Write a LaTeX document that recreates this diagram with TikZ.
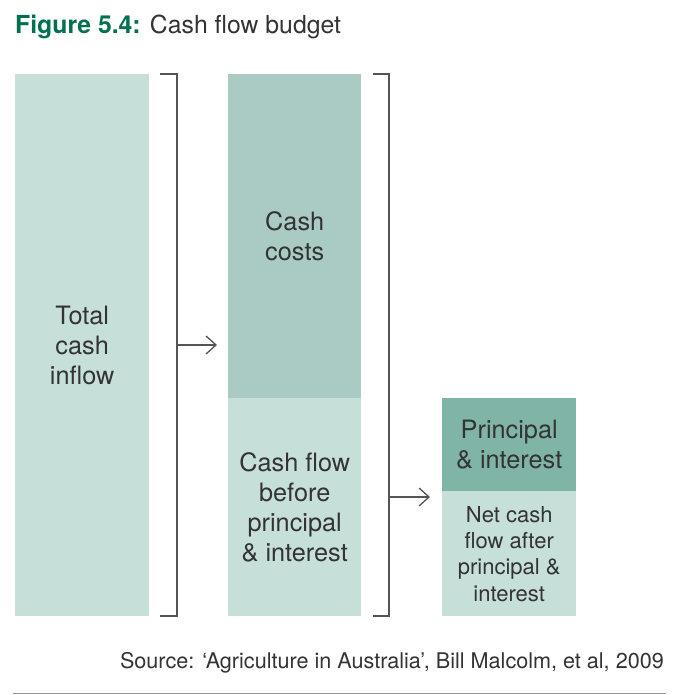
\documentclass[tikz,border=0pt]{standalone}
\usepackage{fontspec}
\setmainfont{TeX Gyre Heros}
\usetikzlibrary{arrows.meta}
\definecolor{lightg}{RGB}{198,223,217}
\definecolor{midg}{RGB}{169,203,196}
\definecolor{darkg}{RGB}{128,180,167}
\definecolor{titleg}{RGB}{0,112,82}
\definecolor{txt}{RGB}{51,51,51}
\definecolor{linec}{RGB}{85,85,85}
\definecolor{rulec}{RGB}{150,150,150}
\begin{document}
\begin{tikzpicture}[x=1pt,y=-1pt,
  box/.style={draw=none, inner sep=0pt, anchor=north west, align=center,
    text=txt, font=\fontsize{25.3}{30}\selectfont},
  brk/.style={draw=linec, line width=1.3pt},
  arr/.style={draw=linec, line width=1.3pt,
    -{Straight Barb[length=10pt,width=18pt,line width=1.3pt]}}]
\useasboundingbox (0,0) rectangle (685,695);
% title
\node[anchor=west, inner sep=0pt, text=txt, font=\fontsize{24.8}{30}\selectfont] (title) at (15,27)
  {{\color{titleg}\bfseries Figure 5.4:} Cash flow budget};
% boxes
\node[box, fill=lightg, minimum width=134pt, minimum height=542pt] (tci) at (15,74) {Total\\cash\\inflow};
\node[box, fill=midg, minimum width=133pt, minimum height=324pt] (cc) at (228,74) {Cash\\costs};
\node[box, fill=lightg, minimum width=133pt, minimum height=218pt] (cfb) at (228,398) {Cash flow\\before\\principal\\\& interest};
\node[box, fill=darkg, minimum width=134pt, minimum height=93pt] (pi) at (442,398) {Principal\\\& interest};
\node[box, fill=lightg, minimum width=134pt, minimum height=125pt, font=\fontsize{22}{26.3}\selectfont] (net) at (442,491) {Net cash\\flow after\\principal \&\\interest};
% brackets
\coordinate (b1t) at (160,74);
\coordinate (b1b) at (160,616);
\coordinate (b1m) at (177,345);
\draw[brk] (b1t) -- (177,74) -- (177,616) -- (b1b);
\coordinate (b2t) at (373,74);
\coordinate (b2b) at (373,616);
\coordinate (b2m) at (389,497);
\draw[brk] (b2t) -- (389,74) -- (389,616) -- (b2b);
% arrows
\draw[arr, shorten >=11pt] (b1m) -- (b1m -| cc.west);
\draw[arr, shorten >=12pt] (b2m) -- (b2m -| net.west);
% source
\node[anchor=east, inner sep=0pt, text=txt, font=\fontsize{21.6}{25}\selectfont] (src) at (664,663)
  {Source: ‘Agriculture in Australia’, Bill Malcolm, et al, 2009};
\coordinate (r1) at (13,693.5);
\coordinate (r2) at (666,693.5);
\draw[draw=rulec, line width=1pt] (r1) -- (r2);
\end{tikzpicture}
\end{document}
